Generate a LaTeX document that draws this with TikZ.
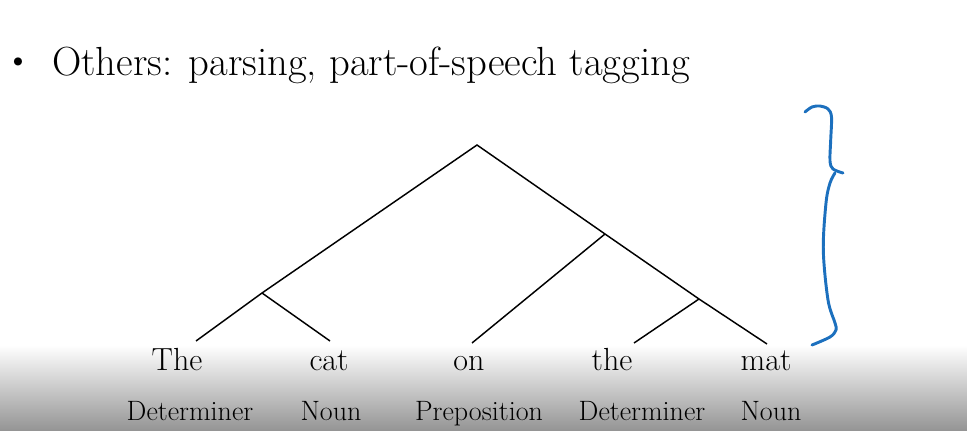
\documentclass[tikz,border=0pt]{standalone}
\usepackage{xcolor}
\usepackage{tikz}
\usetikzlibrary{positioning,calc}
\definecolor{penblue}{RGB}{28,112,190}
\tikzset{
  bulletline/.style={font=\fontsize{30.5}{36}\selectfont, anchor=base west, inner sep=0pt},
  bulletdot/.style={font=\fontsize{27}{32}\selectfont, inner sep=0pt},
  word/.style={font=\fontsize{24}{28}\selectfont, anchor=base, inner sep=0pt},
  postag/.style={font=\fontsize{21}{25}\selectfont, anchor=base, inner sep=0pt},
  branch/.style={line width=1.1pt},
  penstroke/.style={draw=penblue, line width=2.2pt, line cap=round, line join=round},
}

\begin{document}
\begin{tikzpicture}[x=0.75pt, y=-0.75pt]
    \useasboundingbox (0,0) rectangle (967,431);
    \shade[top color=white, middle color=black!10, bottom color=black!42] (0,345) rectangle (967,431);
    % title line
    \node[bulletdot] (dot) at (18,65) {\textbullet};
    \node[bulletline] (title) at (52,76) {Others: parsing, part-of-speech tagging};
    % tree
    \coordinate (root) at (477,145);
    \coordinate (np)   at (262,293);
    \coordinate (pp)   at (605,234);
    \coordinate (np2)  at (699,299);
    \coordinate (e1) at (196,341);
    \coordinate (e2) at (330,341);
    \coordinate (e3) at (472,343);
    \coordinate (e4) at (634,343);
    \coordinate (e5) at (767,344);
    \draw[branch] (e1) -- (np) -- (root) -- (pp) -- (np2) -- (e5);
    \draw[branch] (np) -- (e2);
    \draw[branch] (pp) -- (e3);
    \draw[branch] (np2) -- (e4);
    % words and tags
    \node[word] (w1) at (177,370) {The};
    \node[word] (w2) at (329,370) {cat};
    \node[word] (w3) at (469,370) {on};
    \node[word] (w4) at (612,370) {the};
    \node[word] (w5) at (766,370) {mat};
    \node[postag] (t1) at (190,420) {Determiner};
    \node[postag] (t2) at (331,420) {Noun};
    \node[postag] (t3) at (479,420) {Preposition};
    \node[postag] (t4) at (642,420) {Determiner};
    \node[postag] (t5) at (771,420) {Noun};
    % hand-drawn brace
    \draw[penstroke] plot[smooth, tension=0.55] coordinates {
      (805,112) (812,107) (820,106) (828,109) (831.5,117) (830.7,140)
      (830,161) (833,169) (843,173)};
    \draw[penstroke] plot[smooth, tension=0.55] coordinates {
      (835,173) (830,183) (826,203) (823.3,250) (828,300) (835,323)
      (836,330) (830,337) (812,345)};
  \end{tikzpicture}
\end{document}
